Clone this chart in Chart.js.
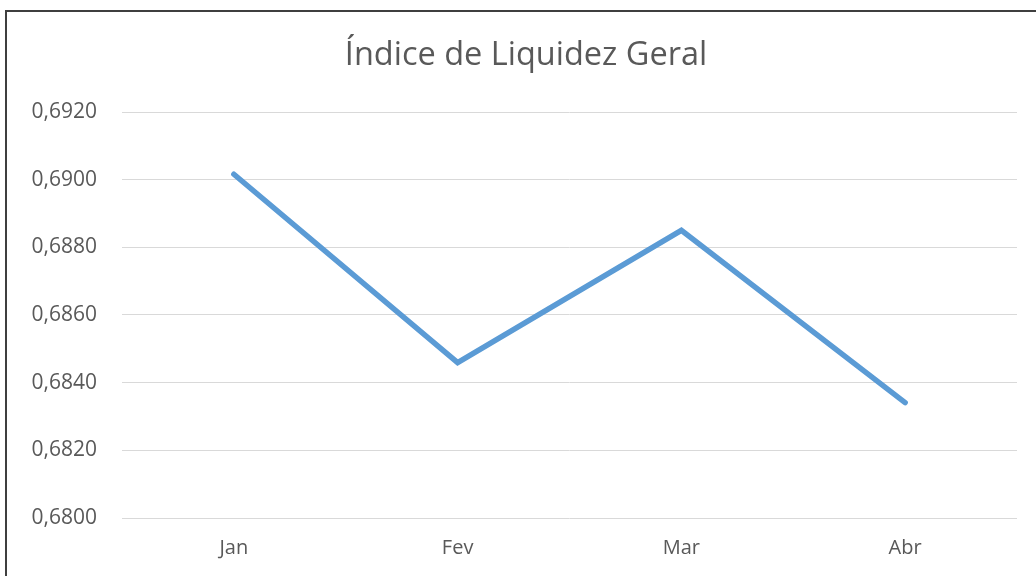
<!DOCTYPE html>
<html>
<head>
<meta charset="utf-8">
<script src="https://cdn.jsdelivr.net/npm/chart.js@4"></script>
<style>
  html, body { margin: 0; padding: 0; background: #fff; overflow: hidden; }
  #wrap { position: relative; width: 1036px; height: 576px; }
  #liquidezChart { display: block; }
  #frame { position: absolute; left: 5px; top: 10px; right: -2px; bottom: -2px; border: 2px solid #3f3f3f; pointer-events: none; }
</style>
</head>
<body>
<div id="wrap">
  <canvas id="liquidezChart" width="1036" height="576"></canvas>
  <div id="frame"></div>
</div>
<script>
// Índice de Liquidez Geral
const meses = ['Jan', 'Fev', 'Mar', 'Abr'];
const liquidez = [0.69016, 0.68459, 0.68850, 0.68341];
const yMin = 0.680, yMax = 0.692, yStep = 0.002;

const fonte = '"Open Sans", "DejaVu Sans", sans-serif';

// nudge the title box so its centre matches the original
const moveTitle = {
  id: 'moveTitle',
  afterLayout(chart) {
    if (chart.titleBlock) chart.titleBlock.left = 35;
  }
};

new Chart(document.getElementById('liquidezChart'), {
  type: 'line',
  data: {
    labels: meses,
    datasets: [{
      label: 'Liquidez Geral',
      data: liquidez,
      borderColor: '#5B9BD5',
      backgroundColor: '#5B9BD5',
      borderWidth: 5.5,
      borderCapStyle: 'round',
      borderJoinStyle: 'miter',
      pointRadius: 0,
      tension: 0,
      fill: false
    }]
  },
  options: {
    responsive: false,
    animation: false,
    layout: { padding: { left: 0, right: 19, top: 0, bottom: 0 } },
    plugins: {
      legend: { display: false },
      tooltip: { enabled: false },
      title: {
        display: true,
        text: 'Índice de Liquidez Geral',
        color: '#595959',
        font: { family: fonte, size: 32.5, weight: 'normal' },
        padding: { top: 36, bottom: 37 }
      }
    },
    scales: {
      x: {
        offset: true,
        afterFit: s => { s.height = 58; },
        grid: { display: false, drawTicks: false },
        border: { display: false },
        ticks: { color: '#595959', font: { family: fonte, size: 20 }, padding: 18, maxRotation: 0 }
      },
      y: {
        min: yMin,
        max: yMax,
        afterFit: s => { s.width = 122; },
        grid: { color: '#d9d9d9', lineWidth: 1, drawTicks: false },
        border: { display: false },
        ticks: {
          stepSize: yStep,
          color: '#595959',
          font: { family: fonte, size: 21 },
          padding: 25,
          callback: v => v.toFixed(4).replace('.', ',')
        }
      }
    }
  },
  plugins: [moveTitle]
});
</script>
</body>
</html>
